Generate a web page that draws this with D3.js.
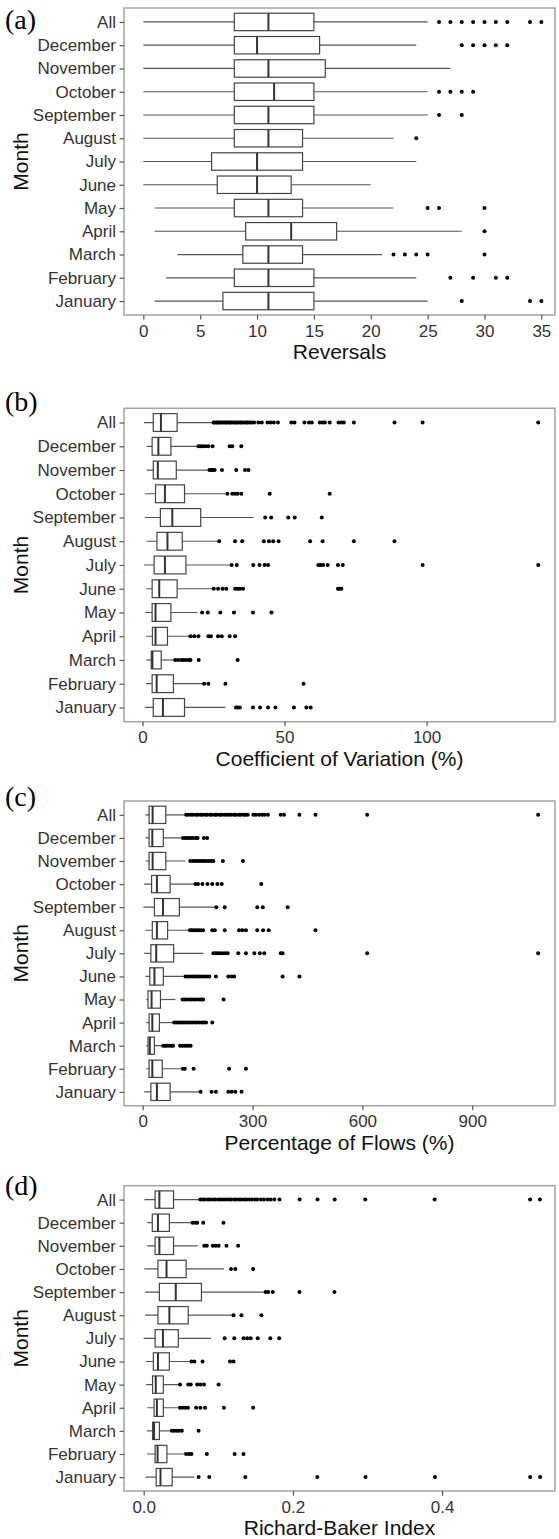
<!DOCTYPE html>
<html>
<head>
<meta charset="utf-8">
<script src="https://d3js.org/d3.v7.min.js"></script>
<style>
body { margin: 0; background: #fff; }
svg { display: block; }
</style>
</head>
<body>
<svg width="559" height="1539"></svg>
<script>
// categories, top to bottom
var months = ["All", "December", "November", "October", "September", "August",
  "July", "June", "May", "April", "March", "February", "January"];

// (a) reversals
var revLow  = [0, 0, 0, 0, 0, 0, 0, 0, 1, 1, 3, 2, 1];
var revQ1   = [8, 8, 8, 8, 8, 8, 6, 6.5, 8, 9, 8.75, 8, 7];
var revMed  = [11, 10, 11, 11.5, 11, 11, 10, 10, 11, 13, 11, 11, 11];
var revQ3   = [15, 15.5, 16, 15, 15, 14, 14, 13, 14, 17, 14, 15, 15];
var revHigh = [25, 24, 27, 25, 25, 22, 24, 20, 22, 28, 21, 24, 25];
var revOut  = [
  [26, 27, 28, 29, 30, 31, 32, 34, 35],
  [28, 29, 30, 31, 32],
  [],
  [26, 27, 28, 29],
  [26, 28],
  [24],
  [],
  [],
  [25, 26, 30],
  [30],
  [22, 23, 24, 25, 30],
  [27, 29, 31, 32],
  [28, 34, 35]
];

// (b) coefficient of variation (%)
var cvLow  = [0.5, 1.5, 1.5, 0.9, 0.9, 1.5, 0.5, 1.3, 0.9, 1.3, 1.3, 1.3, 0.9];
var cvQ1   = [3.8, 3.4, 3.8, 4.6, 6.3, 5.1, 4.1, 3.4, 3.4, 3.5, 3.1, 3.4, 3.8];
var cvMed  = [6.5, 5.6, 5.4, 7.9, 10.5, 8.8, 7.9, 5.9, 4.6, 4.6, 3.5, 5.0, 7.2];
var cvQ3   = [12.2, 10.0, 11.9, 14.8, 20.5, 14.0, 15.3, 12.2, 10.0, 8.8, 6.6, 10.9, 14.8];
var cvHigh = [24.7, 19.4, 23.6, 29.7, 39.1, 27.0, 31.1, 24.7, 19.4, 16.7, 11.3, 21.7, 29.2];
var cvOut  = [
  [25.0, 25.3, 25.9, 26.2, 26.8, 27.1, 27.7, 28.0, 28.6, 29.2, 29.5, 30.1, 30.6, 31.0,
   31.5, 32.2, 32.6, 33.1, 33.5, 34.2, 34.7, 35.0, 35.6, 36.3, 36.8, 37.2, 37.9, 38.5,
   39.3, 40.8, 42.0, 44.0, 45.1, 46.2, 47.7, 52.4, 53.5, 57.0, 58.6, 59.6, 62.4, 63.4,
   64.2, 65.9, 69.0, 70.0, 70.9, 74.4, 88.7, 98.6, 139.3],
  [19.7, 20.5, 21.3, 22.2, 23.2, 24.7, 30.7, 31.6, 34.8],
  [23.6, 24.2, 24.8, 25.4, 28.0, 33.0, 36.1, 37.3],
  [29.9, 31.6, 32.6, 33.5, 34.8, 44.8, 65.9],
  [43.2, 45.3, 51.3, 53.6, 63.1],
  [27.0, 32.6, 35.1, 42.7, 44.5, 46.0, 47.9, 59.0, 63.4, 74.4, 88.7],
  [31.4, 33.2, 39.0, 41.2, 43.0, 44.2, 61.9, 62.7, 63.6, 65.2, 68.8, 70.5, 98.6, 139.3],
  [25.1, 26.6, 28.2, 29.5, 32.6, 33.5, 34.3, 35.4, 68.8, 69.3, 70.0],
  [21.0, 23.0, 27.4, 32.2, 38.9, 45.4],
  [16.9, 18.2, 19.7, 23.2, 24.1, 26.6, 27.9, 30.7, 32.6],
  [11.5, 12.5, 13.6, 14.4, 15.3, 16.3, 16.9, 19.8, 33.5],
  [21.7, 23.2, 29.2, 56.7],
  [32.9, 33.5, 34.3, 38.9, 41.4, 44.2, 46.8, 53.3, 57.7, 59.2]
];

// (c) percentage of flows (%)
var pfLow  = [7.8, 7.8, 7.8, 3.9, 1.9, 7.8, 3.9, 7.8, 9.7, 9.7, 9.7, 9.7, 3.9];
var pfQ1   = [17.5, 17.5, 17.5, 24.3, 32.1, 26.3, 22.4, 19.5, 14.6, 17.5, 14.6, 17.5, 22.4];
var pfMed  = [27.2, 26.3, 27.2, 38.9, 55.5, 38.9, 37.0, 32.1, 24.3, 26.3, 19.5, 26.3, 38.9];
var pfQ3   = [63.2, 56.4, 63.2, 74.9, 100.2, 68.1, 84.6, 56.4, 48.6, 45.7, 32.1, 53.5, 74.9];
var pfHigh = [116.8, 109, 116.8, 144, 199.5, 128.4, 165.4, 113.8, 89.5, 85.6, 53.5, 110, 157.6];
var pfOut  = [
  [119, 124, 131, 137, 145, 150, 158, 163, 171, 176, 184, 189, 197, 202, 210, 215, 223,
   229, 235, 242, 250, 255, 263, 268, 276, 281, 287, 302, 309, 318, 326, 333, 342, 377,
   386, 428, 472, 613, 1080],
  [110, 116, 121, 127, 133, 139, 146, 150, 167, 176],
  [130, 137, 143, 150, 156, 162, 168, 174, 181, 187, 193, 219, 274],
  [144, 151, 163, 177, 190, 204, 216, 324],
  [201, 224, 313, 328, 396],
  [129, 134, 140, 146, 152, 158, 165, 190, 197, 224, 263, 272, 282, 313, 329, 344, 472],
  [193, 199, 205, 211, 218, 225, 232, 261, 282, 305, 320, 332, 377, 382, 613, 1080],
  [117, 123, 129, 136, 142, 148, 155, 161, 168, 175, 182, 200, 234, 243, 250, 382, 428],
  [109, 115, 121, 128, 134, 141, 147, 154, 160, 165, 221],
  [86, 92, 98, 104, 110, 117, 123, 129, 135, 142, 148, 155, 161, 167, 173, 190],
  [56, 61, 66, 72, 78, 83, 102, 108, 114, 120, 126, 131],
  [110, 115, 139, 236, 282],
  [158, 188, 200, 234, 243, 253, 270]
];

// (d) Richard-Baker index
var rbLow  = [0.001, 0.0048, 0.0048, 0.001, 0.0019, 0.0019, 0, 0.0024, 0.0033, 0.0048, 0.0043, 0.0048, 0.0024];
var rbQ1   = [0.0153, 0.0115, 0.0153, 0.0191, 0.021, 0.0191, 0.0153, 0.0129, 0.0119, 0.0139, 0.0119, 0.0153, 0.0167];
var rbMed  = [0.021, 0.0191, 0.021, 0.0306, 0.043, 0.0344, 0.0258, 0.0191, 0.0162, 0.0177, 0.0139, 0.0186, 0.0225];
var rbQ3   = [0.040, 0.0344, 0.040, 0.0569, 0.0774, 0.0597, 0.0464, 0.0344, 0.0263, 0.0263, 0.021, 0.0311, 0.0382];
var rbHigh = [0.075, 0.0655, 0.0726, 0.1075, 0.1634, 0.1204, 0.0903, 0.064, 0.0478, 0.0487, 0.0368, 0.0569, 0.0679];
var rbOut  = [
  [0.076, 0.079, 0.082, 0.086, 0.089, 0.093, 0.096, 0.100, 0.103, 0.107, 0.110, 0.114,
   0.117, 0.121, 0.124, 0.128, 0.131, 0.135, 0.138, 0.142, 0.145, 0.149, 0.152, 0.157,
   0.161, 0.166, 0.170, 0.175, 0.182, 0.209, 0.233, 0.256, 0.297, 0.390, 0.518, 0.531],
  [0.0655, 0.0693, 0.0717, 0.0798, 0.107],
  [0.0812, 0.0846, 0.0927, 0.0965, 0.1004, 0.1109, 0.1266],
  [0.117, 0.1228, 0.1467],
  [0.1634, 0.1668, 0.173, 0.2088, 0.2557],
  [0.1204, 0.131, 0.1577],
  [0.1085, 0.1214, 0.1338, 0.1386, 0.1434, 0.1529, 0.1697, 0.1816],
  [0.064, 0.0679, 0.0789, 0.1157, 0.1204],
  [0.0487, 0.0597, 0.0631, 0.0717, 0.076, 0.0808, 0.1004],
  [0.0487, 0.0521, 0.0559, 0.0593, 0.0703, 0.076, 0.0822, 0.1075, 0.1467],
  [0.0378, 0.0406, 0.044, 0.0473, 0.0511, 0.0736],
  [0.0569, 0.0607, 0.064, 0.0846, 0.1219, 0.1338],
  [0.0736, 0.0879, 0.1362, 0.2327, 0.2973, 0.3904, 0.518, 0.5314]
];

var revTicks = [0, 5, 10, 15, 20, 25, 30, 35];
var cvTicks = [0, 50, 100];
var pfTicks = [0, 300, 600, 900];
var rbTicks = [0, 0.2, 0.4];

var panels = [
  {tag: "(a)", title: "Reversals", lo: revLow, q1: revQ1, med: revMed, q3: revQ3, hi: revHigh, out: revOut,
   ticks: revTicks, fmt: d3.format("d"), domain: [-1.7, 36.2], top: 8, bottom: 315, tagY: 19},
  {tag: "(b)", title: "Coefficient of Variation (%)", lo: cvLow, q1: cvQ1, med: cvMed, q3: cvQ3, hi: cvHigh, out: cvOut,
   ticks: cvTicks, fmt: d3.format("d"), domain: [-6.5, 145.2], top: 408.3, bottom: 721.7, tagY: 400.7},
  {tag: "(c)", title: "Percentage of Flows (%)", lo: pfLow, q1: pfQ1, med: pfMed, q3: pfQ3, hi: pfHigh, out: pfOut,
   ticks: pfTicks, fmt: d3.format("d"), domain: [-51, 1126], top: 801, bottom: 1105.7, tagY: 795.7},
  {tag: "(d)", title: "Richard-Baker Index", lo: rbLow, q1: rbQ1, med: rbMed, q3: rbQ3, hi: rbHigh, out: rbOut,
   ticks: rbTicks, fmt: d3.format(".1f"), domain: [-0.0264, 0.5513], top: 1185.7, bottom: 1491, tagY: 1185}
];

var svg = d3.select("svg");
var left = 124, right = 555;

panels.forEach(function(p) {
  var g = svg.append("g");
  var x = d3.scaleLinear().domain(p.domain).range([left, right]);
  var y = d3.scalePoint().domain(months).range([p.top, p.bottom]).padding(0.6);
  var bw = y.step() * 0.75;

  var rows = months.map(function(m, i) {
    return {m: m, lo: p.lo[i], q1: p.q1[i], med: p.med[i], q3: p.q3[i], hi: p.hi[i], out: p.out[i]};
  });

  // whiskers
  g.append("g").selectAll("line").data(rows).enter().append("line")
    .attr("x1", function(d) { return x(d.lo) })
    .attr("x2", function(d) { return x(d.hi) })
    .attr("y1", function(d) { return y(d.m) })
    .attr("y2", function(d) { return y(d.m) })
    .style("stroke", "#555").style("stroke-width", 1.2);

  // boxes
  g.append("g").selectAll("rect").data(rows).enter().append("rect")
    .attr("x", function(d) { return x(d.q1) })
    .attr("y", function(d) { return y(d.m) - bw / 2 })
    .attr("width", function(d) { return x(d.q3) - x(d.q1) })
    .attr("height", bw)
    .style("fill", "#fff").style("stroke", "#444").style("stroke-width", 1.2);

  // medians
  g.append("g").selectAll("line").data(rows).enter().append("line")
    .attr("x1", function(d) { return x(d.med) })
    .attr("x2", function(d) { return x(d.med) })
    .attr("y1", function(d) { return y(d.m) - bw / 2 })
    .attr("y2", function(d) { return y(d.m) + bw / 2 })
    .style("stroke", "#333").style("stroke-width", 2);

  // outliers
  var pts = [];
  rows.forEach(function(d) { d.out.forEach(function(v) { pts.push({m: d.m, v: v}) }) });
  g.append("g").selectAll("circle").data(pts).enter().append("circle")
    .attr("cx", function(d) { return x(d.v) })
    .attr("cy", function(d) { return y(d.m) })
    .attr("r", 2)
    .style("fill", "#000");

  // panel border
  g.append("rect")
    .attr("x", left).attr("y", p.top)
    .attr("width", right - left).attr("height", p.bottom - p.top)
    .style("fill", "none").style("stroke", "#a3a3a3").style("stroke-width", 1.5);

  // axes
  var xa = g.append("g").attr("transform", "translate(0," + p.bottom + ")")
    .call(d3.axisBottom(x).tickValues(p.ticks).tickFormat(p.fmt).tickSize(4.5).tickPadding(5));
  var ya = g.append("g").attr("transform", "translate(" + left + ",0)")
    .call(d3.axisLeft(y).tickSize(4.5).tickPadding(3.5));
  [xa, ya].forEach(function(a) {
    a.select(".domain").remove();
    a.selectAll(".tick line").style("stroke", "#555").style("stroke-width", 1.2);
    a.selectAll(".tick text").style("font", "17px 'Liberation Sans', Arial, sans-serif").style("fill", "#333");
  });

  // axis titles
  g.append("text")
    .attr("x", (left + right) / 2).attr("y", p.bottom + 44)
    .attr("text-anchor", "middle")
    .style("font", "21px 'Liberation Sans', Arial, sans-serif").style("fill", "#111")
    .text(p.title);
  g.append("text")
    .attr("transform", "translate(28," + ((p.top + p.bottom) / 2) + ") rotate(-90)")
    .attr("text-anchor", "middle")
    .style("font", "21px 'Liberation Sans', Arial, sans-serif").style("fill", "#111")
    .text("Month");

  // panel tag
  g.append("text")
    .attr("x", 5).attr("y", p.tagY).attr("dy", "0.35em")
    .style("font", "28px 'Liberation Serif', 'Times New Roman', serif").style("fill", "#000")
    .text(p.tag);
});
</script>
</body>
</html>
